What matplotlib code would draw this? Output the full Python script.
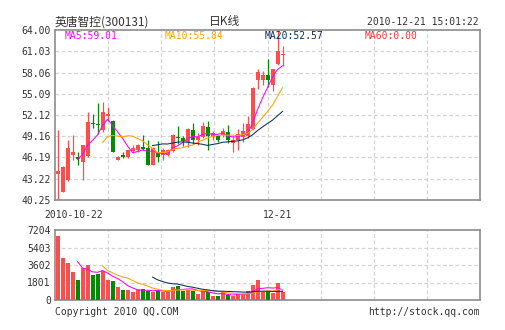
import numpy as np
import pandas as pd
import matplotlib
matplotlib.use("Agg")
import matplotlib.pyplot as plt
from matplotlib.patches import Rectangle

# daily K data for 300131, 2010-10-19 .. 2010-12-21
opens = [43.9, 41.4, 43.0, 46.5, 46.3, 45.5, 46.4, 50.96, 50.8, 50.0,
         52.0, 51.3, 45.9, 46.5, 46.2, 47.1, 47.2, 47.6, 47.5, 45.2,
         46.9, 46.5, 46.6, 47.1, 49.05, 48.9, 48.4, 50.0, 48.6, 49.1,
         50.4, 49.0, 49.2, 49.35, 49.8, 48.2, 48.6, 49.1, 49.2, 50.2,
         56.95, 57.0, 57.7, 56.3, 59.2, 60.5]
highs = [50.0, 45.0, 48.6, 49.3, 46.9, 48.0, 52.6, 52.3, 53.8, 54.0,
         53.3, 51.4, 46.4, 46.9, 47.3, 47.9, 48.1, 49.4, 48.7, 47.6,
         48.5, 47.5, 47.4, 49.5, 50.6, 49.2, 50.3, 51.0, 49.6, 51.1,
         51.3, 49.9, 49.4, 50.3, 50.7, 49.0, 50.2, 51.0, 52.0, 56.0,
         58.6, 58.3, 60.0, 58.6, 64.0, 61.8]
lows = [40.25, 41.4, 42.9, 45.9, 45.2, 43.0, 46.2, 50.3, 49.5, 49.8,
        51.3, 46.9, 45.8, 46.1, 46.1, 46.8, 47.0, 47.2, 45.2, 45.2,
        45.6, 45.9, 46.4, 46.9, 48.1, 47.8, 47.6, 48.1, 47.9, 48.9,
        47.2, 48.6, 48.3, 49.0, 48.2, 46.9, 47.2, 48.4, 48.9, 50.0,
        55.7, 56.3, 56.1, 55.5, 59.1, 59.0]
closes = [44.3, 44.8, 47.5, 46.9, 46.0, 47.9, 51.2, 50.85, 50.7, 52.6,
          52.25, 47.0, 46.3, 46.2, 47.2, 47.55, 47.9, 47.4, 45.2, 47.5,
          46.3, 47.3, 47.2, 49.4, 48.85, 48.5, 50.15, 48.7, 49.1, 50.6,
          49.2, 49.6, 48.6, 49.9, 48.7, 48.6, 49.5, 49.9, 50.9, 55.95,
          58.1, 57.7, 57.0, 58.5, 61.1, 60.7]
volumes = [6587, 4357, 3842, 2916, 2058, 3328, 3602, 2573, 2676, 3019,
           2058, 1955, 1372, 1029, 1029, 857, 1029, 1132, 960, 789,
           1029, 789, 857, 1372, 1475, 926, 1029, 926, 617, 926,
           789, 412, 412, 789, 515, 446, 617, 617, 926, 1544,
           2058, 857, 926, 755, 1784, 789]

price_ticks = [40.25, 43.22, 46.19, 49.16, 52.12, 55.09, 58.06, 61.03, 64.00]
vol_ticks = [0, 1801, 3602, 5403, 7204]
ma_labels = ["MA5:59.01", "MA10:55.84", "MA20:52.57", "MA60:0.00"]

RED = "#ff4c4c"
GREEN = "#008c00"
MA_COLORS = ["#ff00ff", "#ffa200", "#0a2f5e", "#ff3333"]
GRID = "#d4d4d4"
BORDER = "#8c8c8c"
TXT = "#333333"
MONO = "DejaVu Sans Mono"
CJK = ["Noto Sans CJK SC", "DejaVu Sans"]

df = pd.DataFrame({"open": opens, "high": highs, "low": lows,
                   "close": closes, "vol": volumes})
x = np.arange(len(df)) + 0.5
up = df["close"] >= df["open"]

fig = plt.figure(figsize=(5.05, 3.3), dpi=100)
W, H = 505, 330
ax = fig.add_axes([55 / W, (H - 200) / H, 425 / W, 170 / H])
axv = fig.add_axes([55 / W, (H - 300) / H, 425 / W, 70 / H])

NSLOT = 85
vgrid = np.linspace(0, NSLOT, 9)[1:-1]


def style_axes(a):
    a.set_xlim(0, NSLOT)
    a.set_xticks([])
    for s in a.spines.values():
        s.set_color(BORDER)
        s.set_linewidth(1.2)
    for gx in vgrid:
        a.axvline(gx, color=GRID, lw=0.9, ls=(0, (3, 2)), zorder=0)
    a.tick_params(axis="y", length=0, pad=3, labelsize=7, labelcolor=TXT)
    for lab in a.get_yticklabels():
        lab.set_family(MONO)


# price panel
ax.set_ylim(min(lows), max(highs))
ax.set_yticks(price_ticks)
ax.set_yticklabels([f"{t:.2f}" for t in price_ticks])
for t in price_ticks[1:-1]:
    ax.axhline(t, color=GRID, lw=0.9, ls=(0, (3, 2)), zorder=0)
style_axes(ax)

bw = 0.8
for xi, (o, h, l, c), u in zip(x, df[["open", "high", "low", "close"]].values, up):
    col = RED if u else GREEN
    ax.vlines(xi, l, h, color=col, lw=0.9, zorder=3)
    bot, top = min(o, c), max(o, c)
    ax.add_patch(Rectangle((xi - bw / 2, bot), bw, max(top - bot, 0.05),
                           facecolor=col, edgecolor=col, lw=0, zorder=4))

for n, col in zip([5, 10, 20], MA_COLORS):
    ma = df["close"].rolling(n).mean()
    ax.plot(x, ma, color=col, lw=0.75, zorder=5)

for i, (lab, col) in enumerate(zip(ma_labels, MA_COLORS)):
    ax.text((65 - 55 + 100 * i) / 5, 63.1, lab, color=col, fontsize=7,
            family=MONO, va="center", ha="left", zorder=6)

# volume panel
axv.set_ylim(0, vol_ticks[-1])
axv.set_yticks(vol_ticks)
axv.set_yticklabels([str(t) for t in vol_ticks])
for t in vol_ticks[1:-1]:
    axv.axhline(t, color=GRID, lw=0.9, ls=(0, (3, 2)), zorder=0)
style_axes(axv)
axv.bar(x, df["vol"], width=bw, color=np.where(up, RED, GREEN), zorder=3)
for n, col in zip([5, 10, 20], MA_COLORS):
    axv.plot(x, df["vol"].rolling(n).mean(), color=col, lw=0.75, zorder=5)

# header / footer texts
fig.text(55 / W, 1 - 22 / H, "英唐智控(300131)", family=CJK, fontsize=8.5,
         color=TXT, va="center", ha="left")
fig.text(225 / W, 1 - 22 / H, "日K线", family=CJK, fontsize=8.5,
         color=TXT, va="center", ha="center")
fig.text(479 / W, 1 - 22 / H, "2010-12-21 15:01:22", family=MONO, fontsize=7,
         color=TXT, va="center", ha="right")
fig.text(74 / W, 1 - 215 / H, "2010-10-22", family=MONO, fontsize=7,
         color=TXT, va="center", ha="center")
fig.text(278 / W, 1 - 215 / H, "12-21", family=MONO, fontsize=7,
         color=TXT, va="center", ha="center")
fig.text(55 / W, 1 - 312 / H, "Copyright 2010 QQ.COM", family=MONO,
         fontsize=7, color=TXT, va="center", ha="left")
fig.text(480 / W, 1 - 312 / H, "http://stock.qq.com", family=MONO,
         fontsize=7, color=TXT, va="center", ha="right")

fig.savefig("out.png", dpi=100)
plt.close(fig)
